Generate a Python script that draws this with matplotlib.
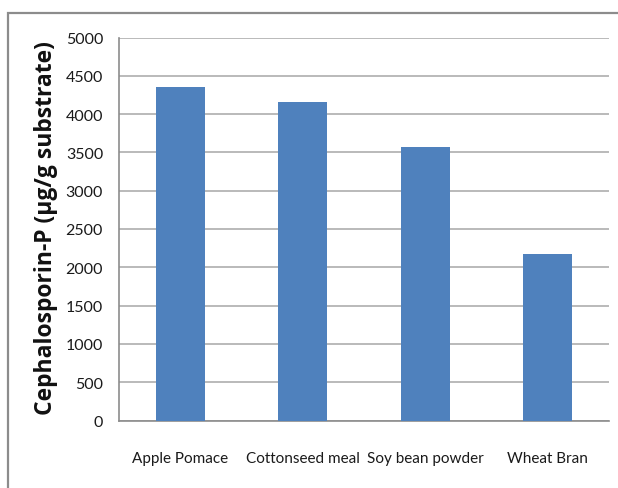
import matplotlib
matplotlib.use("Agg")
import matplotlib.pyplot as plt
from matplotlib.patches import Rectangle

# Cephalosporin-P yield per substrate
substrates = ["Apple Pomace", "Cottonseed meal", "Soy bean powder", "Wheat Bran"]
yields = [4350, 4160, 3565, 2180]
y_ticks = [0, 500, 1000, 1500, 2000, 2500, 3000, 3500, 4000, 4500, 5000]

W, H = 618, 489
fig = plt.figure(figsize=(W / 100, H / 100), dpi=100)
fig.patch.set_facecolor("white")

# chart frame (runs off the right and bottom edges)
frame = Rectangle((8 / W, -0.5), 2.0, (H - 14) / H + 0.5, transform=fig.transFigure,
                  fill=False, edgecolor="#8c8c8c", linewidth=1.6, clip_on=False)
fig.patches.append(frame)

ax = fig.add_axes([119 / W, (H - 421.5) / H, (609 - 119) / W, (421.5 - 38.5) / H])

x = range(len(substrates))
ax.bar(x, yields, width=0.4, color="#4F81BD", zorder=3)

ax.set_xlim(-0.5, len(substrates) - 0.5)
ax.set_ylim(0, 5000)
ax.set_yticks(y_ticks)
ax.set_yticklabels([str(v) for v in y_ticks])
ax.set_xticks(list(x))
ax.set_xticklabels(substrates)

ax.grid(axis="y", color="#b4b4b4", linewidth=1.3, zorder=0)
ax.set_axisbelow(True)

for side in ("top", "right"):
    ax.spines[side].set_visible(False)
for side in ("left", "bottom"):
    ax.spines[side].set_color("#8c8c8c")
    ax.spines[side].set_linewidth(1.2)

ax.tick_params(axis="both", length=0, labelsize=11, colors="#1a1a1a")
ax.tick_params(axis="y", pad=11.5, labelsize=11.5)
ax.tick_params(axis="x", pad=22)
for lbl in ax.get_xticklabels() + ax.get_yticklabels():
    lbl.set_fontfamily("Lato")

fig.text(46 / W, 1 - 228 / H, "Cephalosporin-P (\u03bcg/g substrate)", rotation=90,
         ha="center", va="center", fontsize=16.5, fontweight="bold",
         fontfamily="Open Sans", color="#111111")

fig.savefig("out.png", dpi=100)
